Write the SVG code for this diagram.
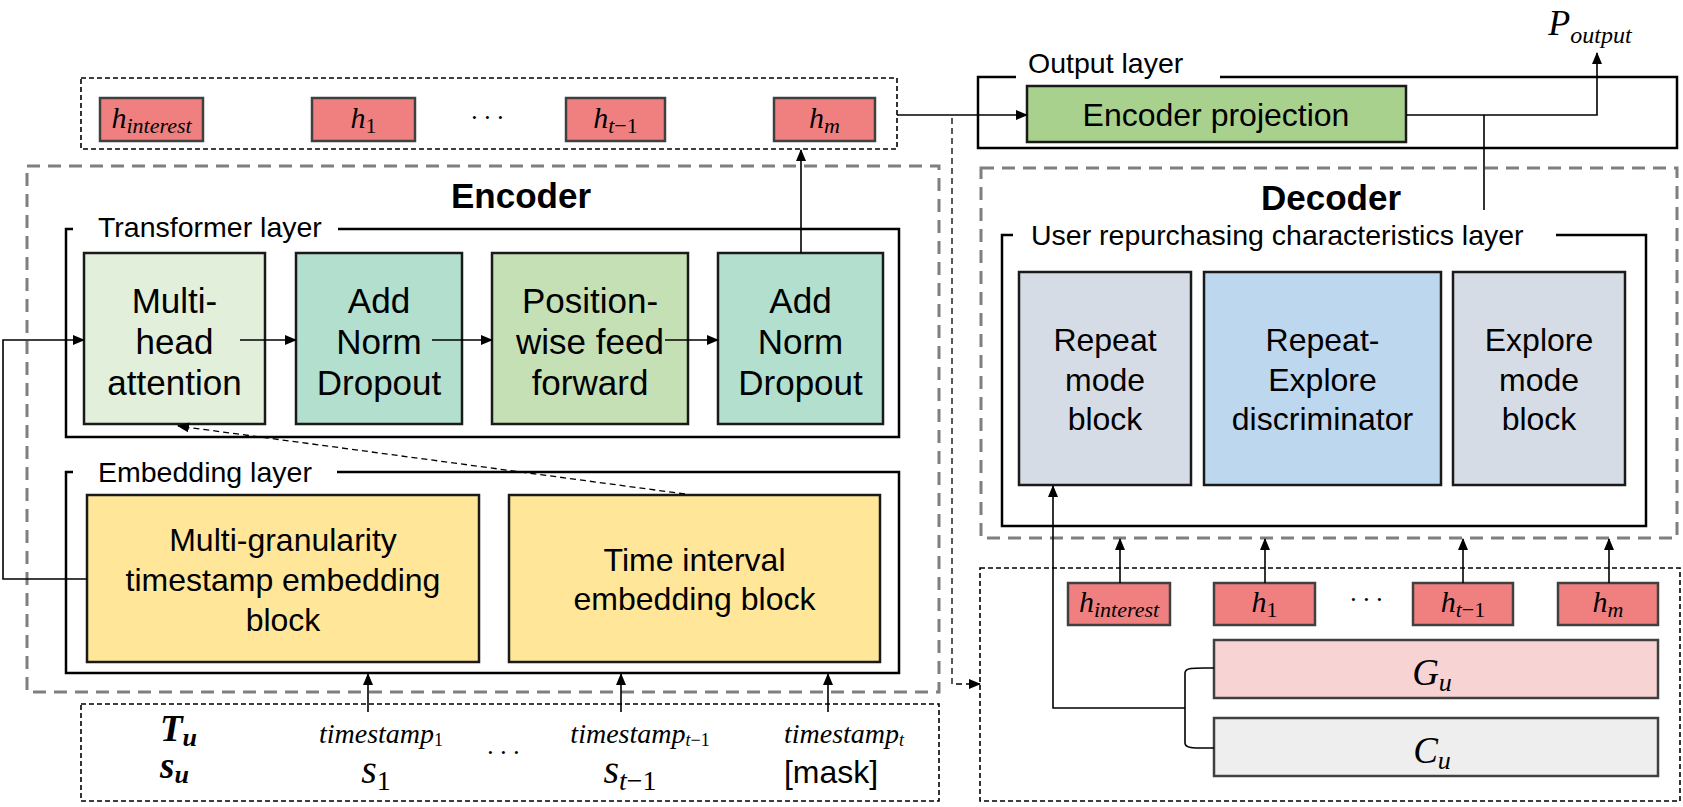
<svg xmlns="http://www.w3.org/2000/svg" width="1683" height="807" viewBox="0 0 1683 807">
<defs>
<marker id="ah" markerUnits="userSpaceOnUse" markerWidth="12" markerHeight="10" refX="11" refY="5" orient="auto">
<path d="M0,0 L12,5 L0,10 Z" fill="#000"/>
</marker>
<style>
.bg{fill:#fff}
.gdash{fill:none;stroke:#7f7f7f;stroke-width:3;stroke-dasharray:13 8}
.kdash{fill:none;stroke:#000;stroke-width:1.6;stroke-dasharray:5 3}
.frame{fill:none;stroke:#000;stroke-width:2.5}
.blk{stroke:#1a1a1a;stroke-width:2.5}
.hb{fill:#f08080;stroke:#404040;stroke-width:2.5}
.lbl{font-family:"Liberation Sans",Arial,sans-serif;font-size:28.5px;fill:#000}
.bt{font-family:"Liberation Sans",Arial,sans-serif;font-size:32px;fill:#000;text-anchor:middle}
.bt2{font-family:"Liberation Sans",Arial,sans-serif;font-size:35px;fill:#000;text-anchor:middle}
.title{font-family:"Liberation Sans",Arial,sans-serif;font-size:35px;font-weight:bold;fill:#000;text-anchor:middle}
.m{font-family:"Liberation Serif","Times New Roman",serif;font-style:italic;fill:#000;text-anchor:middle}
.mb{font-family:"Liberation Serif","Times New Roman",serif;font-style:italic;font-weight:bold;fill:#000}
.ln{fill:none;stroke:#000;stroke-width:1.6}
.lna{fill:none;stroke:#000;stroke-width:1.6;marker-end:url(#ah)}
.dsa{fill:none;stroke:#000;stroke-width:1.3;stroke-dasharray:6 4;marker-end:url(#ah)}
</style>
</defs>
<rect class="bg" x="0" y="0" width="1683" height="807"/>

<!-- Encoder container -->
<g id="encoder">
<rect class="gdash" x="27" y="166" width="912" height="526"/>
<text class="title" x="521" y="208">Encoder</text>
</g>

<g id="transformer-layer">
<path class="frame" d="M73 229 H66 V437 H899 V229 H338"/>
<text class="lbl" x="98" y="237">Transformer layer</text>
</g>

<g id="multi-head-attention">
<rect class="blk" x="84" y="253" width="181" height="171" fill="#e2efda"/>
<text class="bt2"><tspan x="174.5" y="312.5">Multi-</tspan><tspan x="174.5" y="353.5">head</tspan><tspan x="174.5" y="394.5">attention</tspan></text>
</g>
<g id="add-norm-1">
<rect class="blk" x="296" y="253" width="166" height="171" fill="#b3dfce"/>
<text class="bt2"><tspan x="379" y="312.5">Add</tspan><tspan x="379" y="353.5">Norm</tspan><tspan x="379" y="394.5">Dropout</tspan></text>
</g>
<g id="position-wise-ff">
<rect class="blk" x="492" y="253" width="196" height="171" fill="#c5e0b4"/>
<text class="bt2"><tspan x="590" y="312.5">Position-</tspan><tspan x="590" y="353.5">wise feed</tspan><tspan x="590" y="394.5">forward</tspan></text>
</g>
<g id="add-norm-2">
<rect class="blk" x="718" y="253" width="165" height="171" fill="#b3dfce"/>
<text class="bt2"><tspan x="800.5" y="312.5">Add</tspan><tspan x="800.5" y="353.5">Norm</tspan><tspan x="800.5" y="394.5">Dropout</tspan></text>
</g>

<g id="embedding-layer">
<path class="frame" d="M73 472 H66 V673 H899 V472 H337"/>
<text class="lbl" x="98" y="482">Embedding layer</text>
</g>
<g id="multi-granularity-block">
<rect class="blk" x="87" y="495" width="392" height="167" fill="#ffe699"/>
<text class="bt"><tspan x="283" y="551">Multi-granularity</tspan><tspan x="283" y="591">timestamp embedding</tspan><tspan x="283" y="631">block</tspan></text>
</g>
<g id="time-interval-block">
<rect class="blk" x="509" y="495" width="371" height="167" fill="#ffe699"/>
<text class="bt"><tspan x="694.5" y="571">Time interval</tspan><tspan x="694.5" y="610">embedding block</tspan></text>
</g>

<!-- Encoder hidden outputs -->
<g id="encoder-hidden-states">
<rect class="kdash" x="81" y="78" width="816" height="71"/>
<rect class="hb" x="100" y="98" width="103" height="43"/>
<text class="m" x="151.5" y="128" font-size="30">h<tspan font-size="22" dy="5">interest</tspan></text>
<rect class="hb" x="312" y="98" width="103" height="43"/>
<text class="m" x="363.5" y="128" font-size="30">h<tspan font-size="22" dy="5" font-style="normal">1</tspan></text>
<text class="m" x="487" y="126" font-size="26">· · ·</text>
<rect class="hb" x="566" y="98" width="99" height="43"/>
<text class="m" x="615.5" y="128" font-size="30">h<tspan font-size="22" dy="5">t</tspan><tspan font-size="22" font-style="normal">−1</tspan></text>
<rect class="hb" x="774" y="98" width="101" height="43"/>
<text class="m" x="824.5" y="128" font-size="30">h<tspan font-size="22" dy="5">m</tspan></text>
</g>

<!-- Input sequence -->
<g id="input-sequence">
<rect class="kdash" x="81" y="704" width="858" height="97"/>
<text class="mb" x="160" y="741" font-size="37">T<tspan font-size="26" dy="5">u</tspan></text>
<text class="mb" x="160" y="778" font-size="37">s<tspan font-size="26" dy="5">u</tspan></text>
<text class="m" x="381" y="743" font-size="28">timestamp<tspan font-size="18" dy="3" font-style="normal">1</tspan></text>
<text class="m" x="640" y="743" font-size="28">timestamp<tspan font-size="18" dy="3">t</tspan><tspan font-size="18" font-style="normal">−1</tspan></text>
<text class="m" x="844" y="743" font-size="28">timestamp<tspan font-size="18" dy="3">t</tspan></text>
<text class="m" x="503" y="761" font-size="26">· · ·</text>
<text class="m" x="376" y="783" font-size="40">s<tspan font-size="28" dy="7" font-style="normal">1</tspan></text>
<text class="m" x="630" y="783" font-size="40">s<tspan font-size="28" dy="7">t</tspan><tspan font-size="28" font-style="normal">−1</tspan></text>
<text class="bt" x="831" y="783" font-size="30">[mask]</text>
</g>

<!-- Output layer -->
<g id="output-layer">
<path class="frame" d="M1016 77 H978 V148 H1677 V77 H1220"/>
<text class="lbl" x="1028" y="73">Output layer</text>
</g>
<g id="encoder-projection">
<rect class="blk" x="1027" y="86" width="379" height="56" fill="#a9d18e" stroke="#333"/>
<text class="bt" x="1216" y="126" font-size="33">Encoder projection</text>
</g>
<g id="p-output">
<text class="m" x="1590" y="35" font-size="36">P<tspan font-size="24" dy="8">output</tspan></text>
</g>

<!-- Decoder -->
<g id="decoder">
<rect class="gdash" x="981" y="168" width="696" height="370"/>
<text class="title" x="1331" y="210">Decoder</text>
</g>
<g id="user-repurchasing-layer">
<path class="frame" d="M1013 235 H1002 V526 H1646 V235 H1556"/>
<text class="lbl" x="1031" y="245">User repurchasing characteristics layer</text>
</g>
<g id="repeat-mode-block">
<rect class="blk" x="1019" y="272" width="172" height="213" fill="#d6dce5"/>
<text class="bt"><tspan x="1105" y="351">Repeat</tspan><tspan x="1105" y="391">mode</tspan><tspan x="1105" y="430">block</tspan></text>
</g>
<g id="repeat-explore-discriminator">
<rect class="blk" x="1204" y="272" width="237" height="213" fill="#bdd7ee"/>
<text class="bt"><tspan x="1322.5" y="351">Repeat-</tspan><tspan x="1322.5" y="391">Explore</tspan><tspan x="1322.5" y="430">discriminator</tspan></text>
</g>
<g id="explore-mode-block">
<rect class="blk" x="1453" y="272" width="172" height="213" fill="#d6dce5"/>
<text class="bt"><tspan x="1539" y="351">Explore</tspan><tspan x="1539" y="391">mode</tspan><tspan x="1539" y="430">block</tspan></text>
</g>

<g id="decoder-inputs">
<rect class="kdash" x="980" y="568" width="700" height="233"/>
<rect class="hb" x="1068" y="583" width="102" height="42"/>
<text class="m" x="1119" y="612" font-size="30">h<tspan font-size="22" dy="5">interest</tspan></text>
<rect class="hb" x="1214" y="583" width="101" height="42"/>
<text class="m" x="1264.5" y="612" font-size="30">h<tspan font-size="22" dy="5" font-style="normal">1</tspan></text>
<text class="m" x="1366" y="608" font-size="26">· · ·</text>
<rect class="hb" x="1413" y="583" width="100" height="42"/>
<text class="m" x="1463" y="612" font-size="30">h<tspan font-size="22" dy="5">t</tspan><tspan font-size="22" font-style="normal">−1</tspan></text>
<rect class="hb" x="1558" y="583" width="100" height="42"/>
<text class="m" x="1608" y="612" font-size="30">h<tspan font-size="22" dy="5">m</tspan></text>
</g>
<g id="g-u">
<rect x="1214" y="640" width="444" height="58" fill="#f8d3d4" stroke="#404040" stroke-width="2.5"/>
<text class="m" x="1432" y="685" font-size="37">G<tspan font-size="26" dy="6">u</tspan></text>
</g>
<g id="c-u">
<rect x="1214" y="718" width="444" height="58" fill="#eeeeee" stroke="#404040" stroke-width="2.5"/>
<text class="m" x="1432" y="763" font-size="37">C<tspan font-size="26" dy="6">u</tspan></text>
</g>

<!-- Connectors -->
<g id="connectors">
<line class="lna" x1="240" y1="340" x2="296" y2="340"/>
<line class="lna" x1="432" y1="340" x2="492" y2="340"/>
<line class="lna" x1="665" y1="340" x2="718" y2="340"/>
<line class="lna" x1="801" y1="253" x2="801" y2="150"/>
<polyline class="lna" points="87,579 3,579 3,340 84,340"/>
<line class="dsa" x1="685" y1="494" x2="178" y2="426"/>
<line class="lna" x1="368" y1="712" x2="368" y2="674"/>
<line class="lna" x1="621" y1="712" x2="621" y2="674"/>
<line class="lna" x1="828" y1="712" x2="828" y2="674"/>
<line class="lna" x1="897" y1="115" x2="1027" y2="115"/>
<polyline class="lna" points="1406,115 1597,115 1597,53"/>
<line class="ln" x1="1484" y1="115" x2="1484" y2="210"/>
<polyline class="dsa" points="952,118 952,684 980,684"/>
<line class="lna" x1="1120" y1="583" x2="1120" y2="539"/>
<line class="lna" x1="1265" y1="583" x2="1265" y2="539"/>
<line class="lna" x1="1463" y1="583" x2="1463" y2="539"/>
<line class="lna" x1="1609" y1="583" x2="1609" y2="539"/>
<path class="ln" d="M1214 668 C1196 668 1185 667 1185 673 V743 C1185 749 1196 748 1214 748"/>
<polyline class="lna" points="1185,708 1053,708 1053,486"/>
</g>
</svg>
